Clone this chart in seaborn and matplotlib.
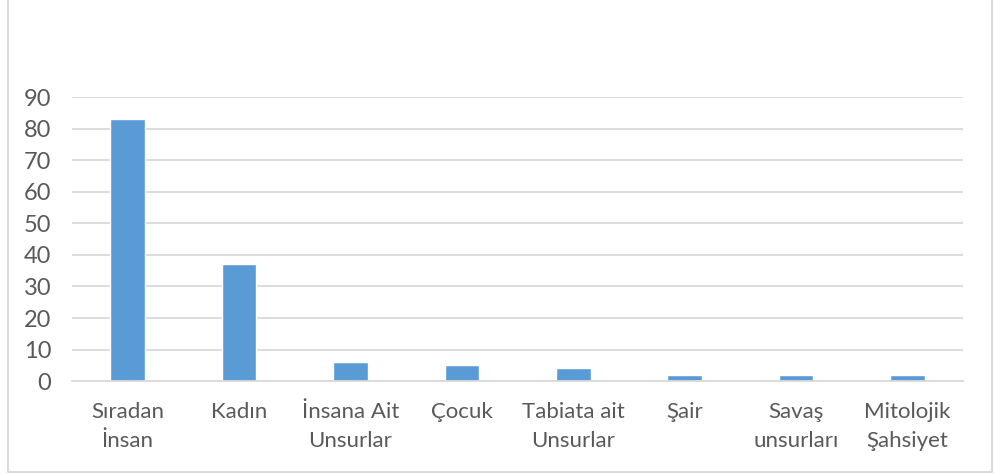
import matplotlib.pyplot as plt
import matplotlib.lines as mlines
import pandas as pd
import seaborn as sns

categories = ["Sıradan\nİnsan", "Kadın", "İnsana Ait\nUnsurlar", "Çocuk",
              "Tabiata ait\nUnsurlar", "Şair", "Savaş\nunsurları", "Mitolojik\nŞahsiyet"]
values = [83, 37, 6, 5, 4, 2, 2, 2]
yticks = [0, 10, 20, 30, 40, 50, 60, 70, 80, 90]

df = pd.DataFrame({"cat": categories, "val": values})

sns.set_theme(style="white")
plt.rcParams['font.family'] = ['Lato', 'DejaVu Sans']

fig = plt.figure(figsize=(9.95, 4.74), dpi=100)
ax = fig.add_axes([0.0724, 0.196, 0.8955, 0.599])

sns.barplot(data=df, x="cat", y="val", color="#5B9BD5", saturation=1,
            width=0.31, ax=ax)

ax.set_ylim(0, 90)
ax.set_yticks(yticks)
ax.set_xlim(-0.5, len(categories) - 0.5)
ax.yaxis.grid(True, color="#D9D9D9", linewidth=1.3)
ax.set_axisbelow(True)
for s in ["top", "right", "left"]:
    ax.spines[s].set_visible(False)
ax.spines["bottom"].set_color("#D9D9D9")
ax.spines["bottom"].set_linewidth(1.3)
ax.set_xlabel("")
ax.set_ylabel("")
ax.tick_params(axis="both", length=0, labelsize=16, colors="#595959")
ax.tick_params(axis="y", labelsize=17, pad=15)
ax.tick_params(axis="x", pad=15)
for t in ax.get_xticklabels():
    t.set_linespacing(1.55)

# chart area border
fig.add_artist(mlines.Line2D([8/995, 8/995], [1 - 472/474, 1], color="#D9D9D9", linewidth=1.3))
fig.add_artist(mlines.Line2D([992/995, 992/995], [1 - 472/474, 1], color="#D9D9D9", linewidth=1.3))
fig.add_artist(mlines.Line2D([8/995, 992/995], [1 - 472/474, 1 - 472/474], color="#D9D9D9", linewidth=1.3))

plt.savefig("out.png", dpi=100)
